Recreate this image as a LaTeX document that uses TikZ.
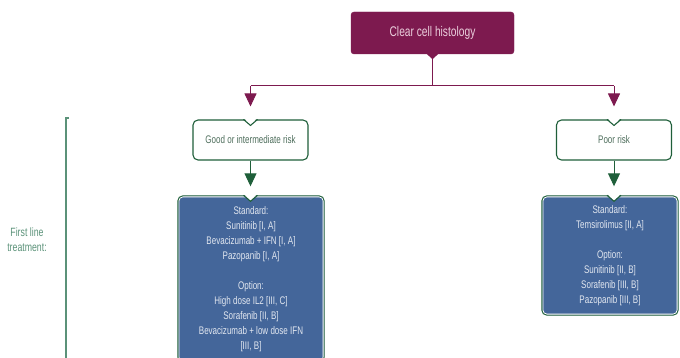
\documentclass[tikz,border=0pt]{standalone}
\usepackage{fontspec}
\setmainfont{Liberation Sans}[FakeStretch=0.73]
\usepackage{tikz}
\usetikzlibrary{positioning, arrows.meta}

\definecolor{histmaroon}{HTML}{7D1A4F}
\definecolor{histpink}{HTML}{EBCFDD}
\definecolor{riskgreen}{HTML}{1F5F3A}
\definecolor{risktext}{HTML}{4E6E5C}
\definecolor{treatblue}{HTML}{44669A}
\definecolor{treattext}{HTML}{E2E7F0}
\definecolor{linegreen}{HTML}{5B9279}

\tikzset{
    histbox/.style={draw=histmaroon, fill=histmaroon, rounded corners=3pt,
        minimum width=163pt, minimum height=42pt, text=histpink,
        font=\fontsize{14}{16}\selectfont},
    riskbox/.style={draw=riskgreen, fill=white, line width=1.1pt, rounded corners=5pt,
        minimum width=115pt, minimum height=40pt, text=risktext,
        font=\fontsize{11}{13}\selectfont},
    treatbox/.style={draw=riskgreen, fill=treatblue, line width=1.4pt, rounded corners=5pt,
        text=treattext, align=center, inner sep=0pt,
        font=\fontsize{11}{15}\selectfont},
    redarrow/.style={draw=histmaroon, line width=1pt, -{Triangle[length=13pt,width=12pt]}},
    greenarrow/.style={draw=riskgreen, line width=1pt, -{Triangle[length=13pt,width=12pt]}}
}

\begin{document}
\begin{tikzpicture}[x=1pt, y=-1pt]
    \useasboundingbox (0,0) rectangle (680,358);

    % Top node
    \node[histbox] (hist) at (432.5,33) {Clear cell histology};
    \fill[histmaroon] ([xshift=-6pt,yshift=0.5pt]hist.south) -- ([yshift=-5pt]hist.south)
        -- ([xshift=6pt,yshift=0.5pt]hist.south) -- cycle;

    % Risk groups
    \node[riskbox] (good) at (250.5,140) {Good or intermediate risk};
    \node[riskbox] (poor) at (614,140) {Poor risk};

    % Treatment boxes
    \node[treatbox, minimum width=146pt, minimum height=166pt] (goodtx) at (251,279)
        {Standard:\\Sunitinib [I, A]\\Bevacizumab + IFN [I, A]\\Pazopanib [I, A]\\[15pt]
         Option:\\High dose IL2 [III, C]\\Sorafenib [II, B]\\Bevacizumab + low dose IFN\\{}[III, B]};
    \node[treatbox, minimum width=136pt, minimum height=119pt] (poortx) at (610,255.5)
        {Standard:\\Temsirolimus [II, A]\\[15pt]
         Option:\\Sunitinib [II, B]\\Sorafenib [III, B]\\Pazopanib [III, B]};

    % White inner rim of the blue boxes
    \foreach \n in {goodtx, poortx} {
        \draw[white, line width=0.8pt, rounded corners=4pt]
            ([xshift=1.6pt,yshift=-1.6pt]\n.north west) rectangle ([xshift=-1.6pt,yshift=1.6pt]\n.south east);
    }

    % Notches on top of the boxes
    \coordinate (goodtxtop) at (good.south |- goodtx.north);
    \coordinate (poortxtop) at (poor.south |- poortx.north);
    \foreach \n in {good.north, poor.north, goodtxtop, poortxtop} {
        \fill[white] ([xshift=-7pt,yshift=2pt]\n) -- ([yshift=-6pt]\n)
            -- ([xshift=7pt,yshift=2pt]\n) -- cycle;
        \draw[riskgreen, line width=1.1pt] ([xshift=-7pt]\n) -- ([yshift=-6pt]\n)
            -- ([xshift=7pt]\n);
    }

    % Connectors
    \coordinate (split) at (432.5,86);
    \draw[histmaroon, line width=1pt] ([yshift=-4pt]hist.south) -- (split);
    \draw[histmaroon, line width=1pt] (good.north |- split) -- (poor.north |- split);
    \draw[redarrow] (good.north |- split) -- ([yshift=13pt]good.north);
    \draw[redarrow] (poor.north |- split) -- ([yshift=13pt]poor.north);
    \draw[greenarrow] (good.south) -- ([yshift=9pt]goodtxtop);
    \draw[greenarrow] (poor.south) -- ([yshift=9pt]poortxtop);

    % First line bracket
    \coordinate (brtop) at (66,118);
    \coordinate (brbot) at (66,360);
    \draw[linegreen, line width=1.2pt] ([xshift=3pt]brtop) -- (brtop) -- (brbot);
    \node[text=linegreen, align=center, font=\fontsize{12}{15}\selectfont] (firstline) at (27,240)
        {First line\\treatment:};
\end{tikzpicture}
\end{document}
